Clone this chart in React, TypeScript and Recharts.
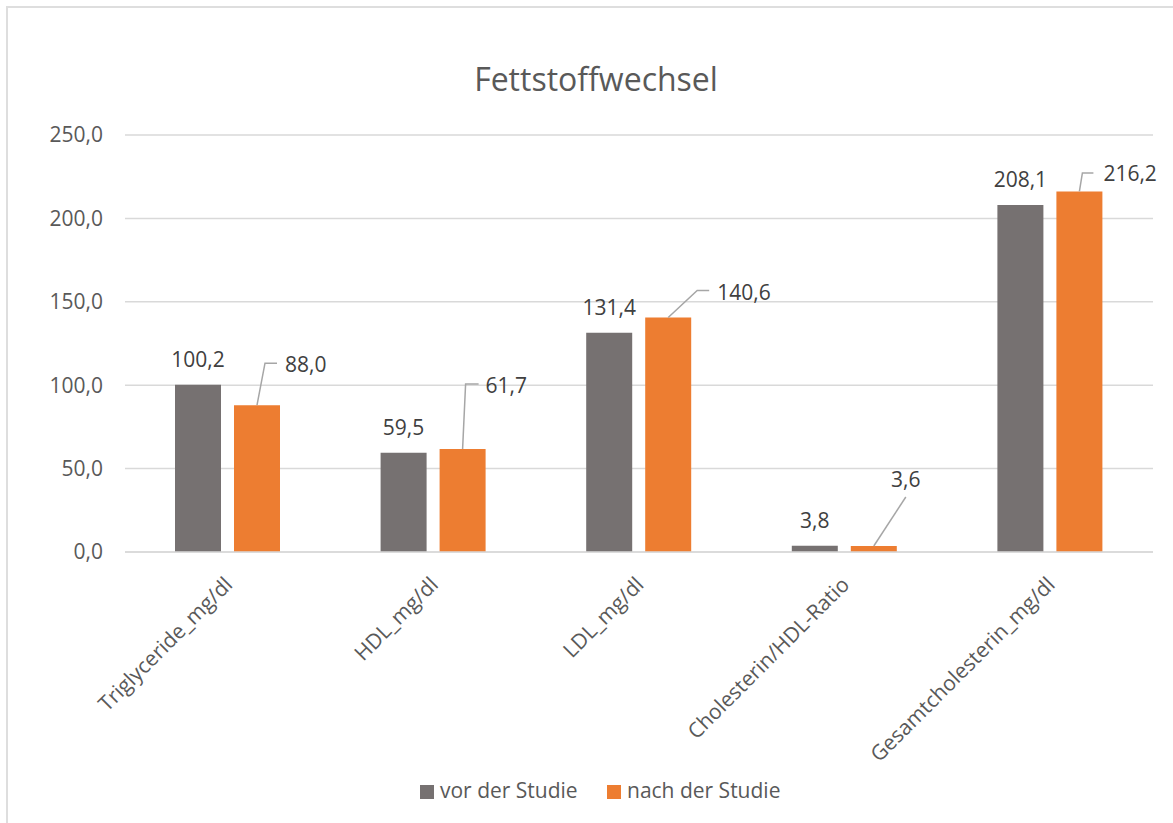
import React from 'react';
import { BarChart, Bar, XAxis, YAxis, CartesianGrid, LabelList, Legend } from 'recharts';

const categories = [
  'Triglyceride_mg/dl',
  'HDL_mg/dl',
  'LDL_mg/dl',
  'Cholesterin/HDL-Ratio',
  'Gesamtcholesterin_mg/dl',
];
const vorValues = [100.2, 59.5, 131.4, 3.8, 208.1];
const nachValues = [88.0, 61.7, 140.6, 3.6, 216.2];
const yTicks = [0, 50, 100, 150, 200, 250];
const seriesNames = ['vor der Studie', 'nach der Studie'];
const title = 'Fettstoffwechsel';

const COLORS = { vor: '#767171', nach: '#ED7D31' };
const FONT = "'Open Sans', sans-serif";

// leader-line label layout for the orange series (offsets relative to bar top centre)
const nachLabelLayout = [
  { ex: 8, ey: -42, hx: 20, tx: 28, ty: -33.5, anchor: 'start' },
  { ex: 3, ey: -65, hx: 16, tx: 23, ty: -56.5, anchor: 'start' },
  { ex: 29, ey: -27, hx: 41, tx: 49, ty: -17.5, anchor: 'start' },
  { ex: 32, ey: -49, hx: null, tx: 32, ty: -58.5, anchor: 'middle' },
  { ex: 3, ey: -18.5, hx: 14, tx: 24, ty: -10, anchor: 'start' },
];

const data = categories.map((c, i) => ({ name: c, vor: vorValues[i], nach: nachValues[i] }));

const fmt = (v: number) => v.toFixed(1).replace('.', ',');

const CategoryTick = (props: any) => {
  const { x, y, payload } = props;
  const ax = x + 6;
  const ay = y + 34;
  return (
    <text
      x={ax}
      y={ay}
      transform={`rotate(-45, ${ax}, ${ay})`}
      textAnchor="end"
      fill="#595959"
      fontSize={21}
      fontFamily={FONT}
    >
      {payload.value}
    </text>
  );
};

const VorLabel = (props: any) => {
  const { x, y, width, value } = props;
  return (
    <text x={x + width / 2} y={y - 17.5} textAnchor="middle" fill="#404040" fontSize={21} fontFamily={FONT}>
      {fmt(Number(value))}
    </text>
  );
};

const NachLabel = (props: any) => {
  const { x, y, width, value } = props;
  let idx = props.index;
  if (typeof idx !== 'number') idx = nachValues.indexOf(Number(value));
  const L = nachLabelLayout[idx] || nachLabelLayout[0];
  const cx = x + width / 2;
  const pts =
    L.hx === null
      ? `${cx},${y} ${cx + L.ex},${y + L.ey}`
      : `${cx},${y} ${cx + L.ex},${y + L.ey} ${cx + L.hx},${y + L.ey}`;
  return (
    <g>
      <polyline points={pts} fill="none" stroke="#a6a6a6" strokeWidth={1.5} />
      <text x={cx + L.tx} y={y + L.ty} textAnchor={L.anchor as any} fill="#404040" fontSize={21} fontFamily={FONT}>
        {fmt(Number(value))}
      </text>
    </g>
  );
};

const LegendContent = () => {
  const items = [
    { name: seriesNames[0], color: COLORS.vor, left: 0 },
    { name: seriesNames[1], color: COLORS.nach, left: 187 },
  ];
  return (
    <div style={{ position: 'relative', height: 30 }}>
      {items.map((it) => (
        <div key={it.name} style={{ position: 'absolute', left: it.left, top: 0, height: 21 }}>
          <div style={{ position: 'absolute', left: 0, top: 5, width: 14, height: 14, background: it.color }} />
          <div
            style={{
              position: 'absolute',
              left: 20,
              top: 0,
              whiteSpace: 'nowrap',
              fontFamily: FONT,
              fontSize: 21,
              lineHeight: '21px',
              color: '#595959',
            }}
          >
            {it.name}
          </div>
        </div>
      ))}
    </div>
  );
};

export default function App() {
  return (
    <div style={{ position: 'absolute', left: 0, top: 0, width: 1173, height: 823, background: '#fff', overflow: 'hidden' }}>
      <div
        style={{
          position: 'absolute',
          left: 6,
          top: 6,
          width: 1300,
          height: 1000,
          border: '2px solid #dedede',
          boxSizing: 'border-box',
        }}
      />
      <div style={{ position: 'absolute', left: 0, top: 0 }}>
        <BarChart
          width={1173}
          height={823}
          data={data}
          margin={{ top: 135, right: 20, left: 65, bottom: 0 }}
          barSize={46}
          barGap={13}
        >
          <text x={596} y={91} textAnchor="middle" fill="#595959" fontSize={32} fontFamily={FONT}>
            {title}
          </text>
          <CartesianGrid horizontal={true} vertical={false} stroke="#d9d9d9" strokeWidth={1.5} />
          <XAxis
            dataKey="name"
            height={271}
            axisLine={{ stroke: '#d9d9d9', strokeWidth: 1.5 }}
            tickLine={false}
            tickSize={0}
            tickMargin={0}
            interval={0}
            tick={<CategoryTick />}
          />
          <YAxis
            width={60}
            domain={[0, 250]}
            ticks={yTicks}
            axisLine={false}
            tickLine={false}
            tickSize={0}
            tickMargin={22}
            tickFormatter={(v: number) => fmt(v)}
            tick={{ fill: '#595959', fontSize: 21, fontFamily: FONT }}
          />
          <Legend
            layout="horizontal"
            verticalAlign="middle"
            align="center"
            content={<LegendContent />}
            wrapperStyle={{ left: 420, top: 780, width: 400, height: 30 }}
          />
          <Bar dataKey="vor" name={seriesNames[0]} fill={COLORS.vor} isAnimationActive={false}>
            <LabelList dataKey="vor" content={<VorLabel />} />
          </Bar>
          <Bar dataKey="nach" name={seriesNames[1]} fill={COLORS.nach} isAnimationActive={false}>
            <LabelList dataKey="nach" content={<NachLabel />} />
          </Bar>
        </BarChart>
      </div>
    </div>
  );
}
